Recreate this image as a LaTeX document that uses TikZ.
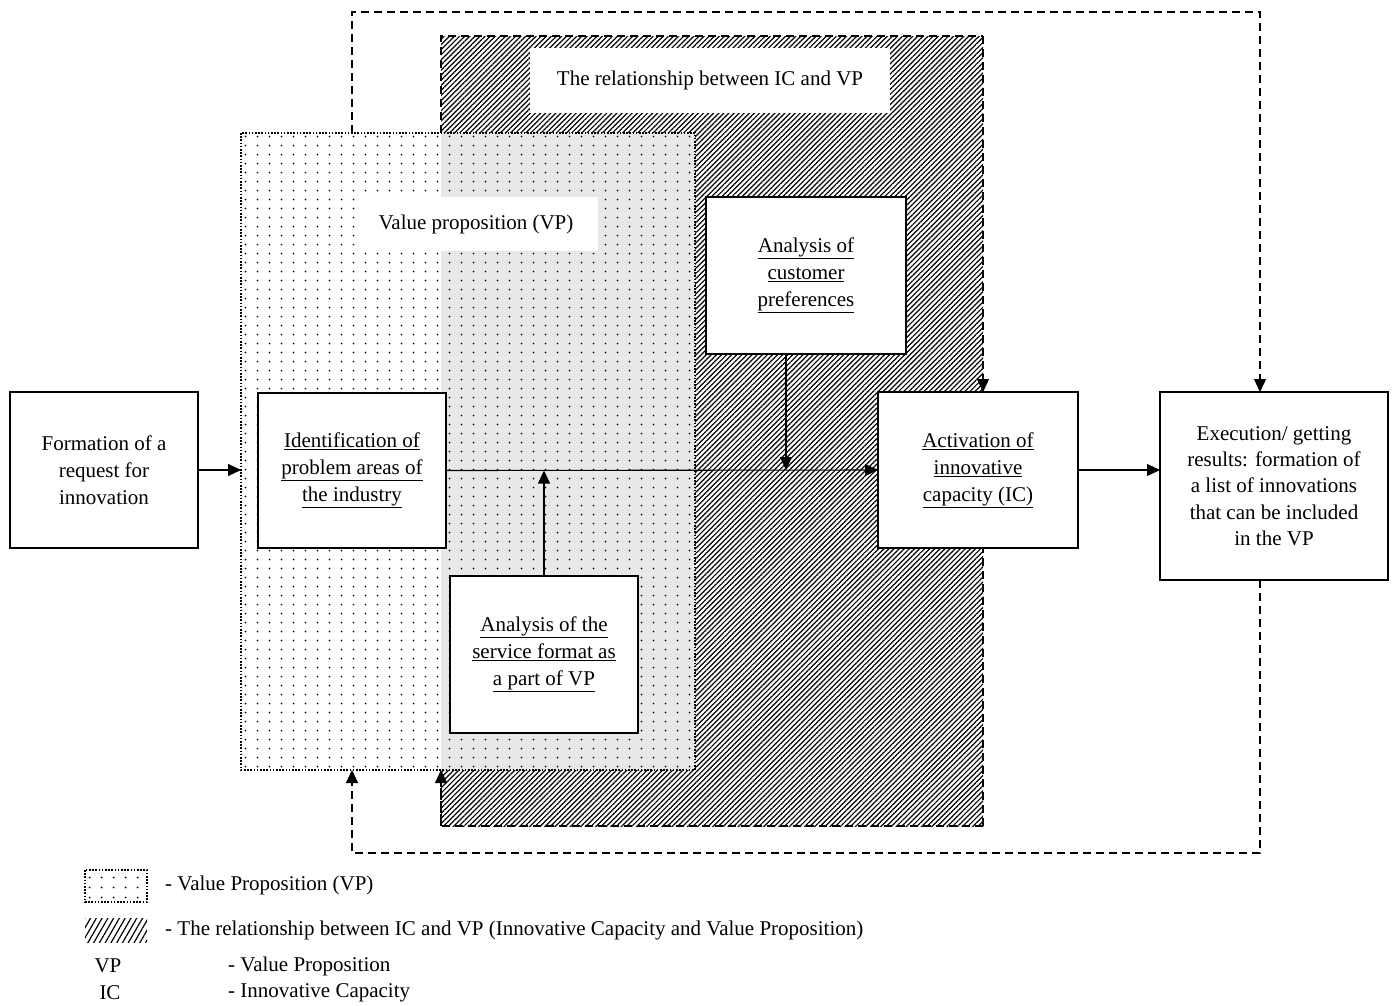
\documentclass[tikz,border=0pt]{standalone}
\usepackage{fontspec}
\setmainfont{Liberation Serif}
\usetikzlibrary{arrows.meta,patterns.meta,calc}
\pgfdeclarepattern{name=vpdots, type=uncolored,
  bottom left={\pgfpoint{0pt}{0pt}}, top right={\pgfpoint{12pt}{9.4pt}},
  tile size={\pgfpoint{12pt}{9.4pt}},
  code={\pgfpathcircle{\pgfpoint{6pt}{4.7pt}}{1.0pt}\pgfusepath{fill}}}
\begin{document}
\begin{tikzpicture}[x=1pt,y=-1pt,
  font=\fontsize{21}{27}\selectfont,
  procbox/.style={draw, line width=2.6pt, fill=white, align=center, inner sep=0pt, outer sep=0pt},
  region/.style={inner sep=0pt, outer sep=0pt, draw=none},
  hatchfill/.style={pattern={Lines[angle=45,distance=3.6pt,line width=1.2pt]}, pattern color=black},
  dotfill/.style={pattern=vpdots, pattern color=black},
  dashline/.style={line width=1.2pt, dash pattern=on 8pt off 5pt},
  dotline/.style={line width=2.4pt, dash pattern=on 1.6pt off 1.6pt},
  arr/.style={line width=1.1pt, -{Triangle[length=13pt,width=12pt]}},
  darr/.style={dashline, -{Triangle[length=13pt,width=12pt]}},
  lbl/.style={fill=white, inner sep=0pt, outer sep=0pt, align=center},
  legtext/.style={anchor=west, inner sep=0pt}]
\useasboundingbox (0,0) rectangle (1395,1005);

% hatched region: relationship between IC and VP
\node[region, hatchfill, minimum width=542pt, minimum height=790pt] (rel) at (712,431) {};
\node[lbl, minimum width=360pt, minimum height=65pt] (rellbl) at (710,80) {The relationship between IC and VP};

% dotted region: value proposition
\node[region, fill=white, minimum width=454pt, minimum height=637pt] (vp) at (468,451.5) {};
\fill[black!9] (rel.west |- vp.north) rectangle (vp.south east);
\fill[dotfill] (vp.north west) rectangle (vp.south east);
\node[lbl, minimum width=243pt, minimum height=54pt] (vplbl) at (476,224) {Value proposition (VP)};

% borders
\draw[dashline] (rel.west |- vp.north) -- (rel.north west) -- (rel.north east);
\draw[dashline] (rel.south east) -- (rel.south west) -- (rel.west |- vp.south);
\draw[dashline] (rel.south east) -- (rel.east |- 0,548);
\draw[dotline] (vp.north west) rectangle (vp.south east);

% process boxes
\node[procbox, minimum width=188pt, minimum height=156pt] (form) at (104,470)
  {Formation of a\\request for\\innovation};
\node[procbox, minimum width=188pt, minimum height=155pt] (ident) at (352,470.5)
  {\underline{Identification of}\\\underline{problem areas of}\\\underline{the industry}};
\node[procbox, minimum width=188pt, minimum height=157pt] (serv) at (544,654.5)
  {\underline{Analysis of the}\\\underline{service format as}\\\underline{a part of VP}};
\node[procbox, minimum width=200pt, minimum height=157pt] (cust) at (806,275.5)
  {\underline{Analysis of}\\\underline{customer}\\\underline{preferences}};
\node[procbox, minimum width=200pt, minimum height=156pt] (act) at (978,470)
  {\underline{Activation of}\\\underline{innovative}\\\underline{capacity (IC)}};
\node[procbox, minimum width=228pt, minimum height=188pt, font=\fontsize{21}{26.3}\selectfont] (exe) at (1274,486)
  {Execution/ getting\\results: formation of\\a list of innovations\\that can be included\\in the VP};

% solid connectors
\draw[arr] (form.east) -- (vp.west |- form.east);
\draw[arr] (ident.east) -- (act.west);
\draw[arr] (serv.north) -- (serv.north |- ident.east);
\coordinate (custdrop) at (786,354);
\draw[arr] (custdrop) -- (custdrop |- act.west);
\draw[arr] (act.east) -- (exe.west |- act.east);

% dashed feedback connectors
\draw[darr] (rel.north east) -- (rel.north east |- act.north);
\draw[darr] (rel.south west) -- (rel.west |- vp.south);
\coordinate (tl) at (352,12);
\coordinate (tr) at (1260,12);
\coordinate (bl) at (352,853);
\coordinate (br) at (1260,853);
\draw[darr] (tl |- vp.north) -- (tl) -- (tr) -- (tr |- exe.north);
\draw[darr] (br |- exe.south) -- (br) -- (bl) -- (bl |- vp.south);

% legend
\node[region, fill=white, dotfill, minimum width=62pt, minimum height=32pt] (legvp) at (116,886) {};
\draw[dotline, line width=1.8pt] (legvp.north west) rectangle (legvp.south east);
\node[legtext] (legvpt) at (165,885) {- Value Proposition (VP)};
\node[region, pattern={Lines[angle=60,distance=5pt,line width=1.2pt]}, minimum width=62pt, minimum height=24pt] (legrel) at (116,930) {};
\node[legtext] (legrelt) at (165,930) {- The relationship between IC and VP (Innovative Capacity and Value Proposition)};
\node[inner sep=0pt] (abvp) at (108,966) {VP};
\node[legtext] (abvpt) at (228,966) {- Value Proposition};
\node[inner sep=0pt] (abic) at (110,993) {IC};
\node[legtext] (abict) at (228,993) {- Innovative Capacity};
\end{tikzpicture}
\end{document}
